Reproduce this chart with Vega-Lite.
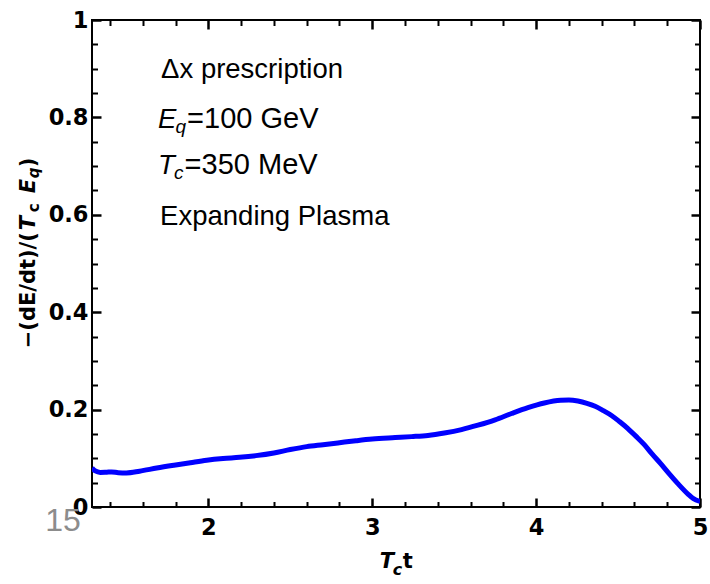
{
  "$schema": "https://vega.github.io/schema/vega-lite/v6.json",
  "autosize": "none",
  "padding": {"left": 92, "top": 20, "right": 10, "bottom": 77},
  "width": 608,
  "height": 487,
  "background": "white",
  "config": {
    "view": {"stroke": "black", "strokeWidth": 2},
    "axis": {"grid": false, "domain": false, "title": null, "tickColor": "black", "labelColor": "black", "labelFont": "DejaVu Sans", "labelFontWeight": "bold", "labelFontSize": 22.5, "labelOverlap": false, "labelFlush": false, "format": "~g"}
  },
  "data": {
    "values": [
      {"t": 1.29, "r": 0.080},
      {"t": 1.31, "r": 0.074},
      {"t": 1.34, "r": 0.071},
      {"t": 1.38, "r": 0.0715},
      {"t": 1.41, "r": 0.072},
      {"t": 1.45, "r": 0.0705},
      {"t": 1.50, "r": 0.070},
      {"t": 1.58, "r": 0.0735},
      {"t": 1.685, "r": 0.080},
      {"t": 1.79, "r": 0.0858},
      {"t": 1.89, "r": 0.091},
      {"t": 1.99, "r": 0.096},
      {"t": 2.09, "r": 0.0995},
      {"t": 2.19, "r": 0.102},
      {"t": 2.29, "r": 0.1055},
      {"t": 2.40, "r": 0.111},
      {"t": 2.50, "r": 0.118},
      {"t": 2.60, "r": 0.124},
      {"t": 2.70, "r": 0.128},
      {"t": 2.80, "r": 0.132},
      {"t": 2.90, "r": 0.136},
      {"t": 3.00, "r": 0.1395},
      {"t": 3.14, "r": 0.1425},
      {"t": 3.24, "r": 0.1445},
      {"t": 3.34, "r": 0.147},
      {"t": 3.44, "r": 0.152},
      {"t": 3.545, "r": 0.159},
      {"t": 3.645, "r": 0.168},
      {"t": 3.75, "r": 0.179},
      {"t": 3.85, "r": 0.192},
      {"t": 3.95, "r": 0.204},
      {"t": 4.05, "r": 0.2135},
      {"t": 4.15, "r": 0.219},
      {"t": 4.20, "r": 0.2195},
      {"t": 4.255, "r": 0.2175},
      {"t": 4.31, "r": 0.213},
      {"t": 4.36, "r": 0.207},
      {"t": 4.41, "r": 0.198},
      {"t": 4.46, "r": 0.188},
      {"t": 4.51, "r": 0.175},
      {"t": 4.56, "r": 0.161},
      {"t": 4.61, "r": 0.145},
      {"t": 4.66, "r": 0.128},
      {"t": 4.71, "r": 0.108},
      {"t": 4.76, "r": 0.089},
      {"t": 4.81, "r": 0.069},
      {"t": 4.865, "r": 0.048},
      {"t": 4.93, "r": 0.0255},
      {"t": 4.96, "r": 0.017},
      {"t": 4.99, "r": 0.0125},
      {"t": 5.00, "r": 0.012}
    ]
  },
  "resolve": {"axis": {"x": "independent", "y": "independent"}},
  "layer": [
    {
      "mark": {"type": "line", "color": "#0000ff", "strokeWidth": 5, "interpolate": "monotone", "clip": true},
      "encoding": {
        "x": {"field": "t", "type": "quantitative", "scale": {"domain": [1.29, 5], "nice": false, "zero": false},
              "axis": {"orient": "bottom", "values": [2, 3, 4, 5], "tickSize": -9, "tickWidth": 2.5, "labelPadding": 18}},
        "y": {"field": "r", "type": "quantitative", "scale": {"domain": [0, 1], "nice": false, "zero": false},
              "axis": {"orient": "left", "values": [0, 0.2, 0.4, 0.6, 0.8, 1], "tickSize": -9, "tickWidth": 2.5, "labelPadding": 13}}
      }
    },
    {
      "mark": {"type": "line", "opacity": 0},
      "encoding": {
        "x": {"field": "t", "type": "quantitative",
              "axis": {"orient": "bottom", "values": [1.4, 1.6, 1.8, 2.2, 2.4, 2.6, 2.8, 3.2, 3.4, 3.6, 3.8, 4.2, 4.4, 4.6, 4.8], "tickSize": -5.5, "tickWidth": 2, "labels": false}},
        "y": {"field": "r", "type": "quantitative",
              "axis": {"orient": "left", "values": [0.05, 0.1, 0.15, 0.25, 0.3, 0.35, 0.45, 0.5, 0.55, 0.65, 0.7, 0.75, 0.85, 0.9, 0.95], "tickSize": -5.5, "tickWidth": 2, "labels": false}}
      }
    },
    {
      "mark": {"type": "line", "opacity": 0},
      "encoding": {
        "x": {"field": "t", "type": "quantitative",
              "axis": {"orient": "top", "values": [2, 3, 4, 5], "tickSize": -9, "tickWidth": 2.5, "labels": false}},
        "y": {"field": "r", "type": "quantitative",
              "axis": {"orient": "right", "values": [0, 0.2, 0.4, 0.6, 0.8, 1], "tickSize": -9, "tickWidth": 2.5, "labels": false}}
      }
    },
    {
      "mark": {"type": "line", "opacity": 0},
      "encoding": {
        "x": {"field": "t", "type": "quantitative",
              "axis": {"orient": "top", "values": [1.4, 1.6, 1.8, 2.2, 2.4, 2.6, 2.8, 3.2, 3.4, 3.6, 3.8, 4.2, 4.4, 4.6, 4.8], "tickSize": -5.5, "tickWidth": 2, "labels": false}},
        "y": {"field": "r", "type": "quantitative",
              "axis": {"orient": "right", "values": [0.05, 0.1, 0.15, 0.25, 0.3, 0.35, 0.45, 0.5, 0.55, 0.65, 0.7, 0.75, 0.85, 0.9, 0.95], "tickSize": -5.5, "tickWidth": 2, "labels": false}}
      }
    },
    {
      "data": {"values": [{}]},
      "layer": [
        {"mark": {"type": "text", "font": "Liberation Sans", "fontSize": 27.5, "align": "left", "baseline": "alphabetic", "dx": 1.5, "color": "black"},
         "encoding": {"x": {"datum": 1.7026, "type": "quantitative", "axis": null}, "y": {"datum": 0.8813, "type": "quantitative", "axis": null}, "text": {"value": "Δx prescription"}}},
        {"mark": {"type": "text", "font": "Liberation Sans", "fontSize": 27.5, "fontStyle": "italic", "align": "left", "baseline": "alphabetic", "dx": -1.5, "color": "black"},
         "encoding": {"x": {"datum": 1.7026, "type": "quantitative", "axis": null}, "y": {"datum": 0.7785, "type": "quantitative", "axis": null}, "text": {"value": "E"}}},
        {"mark": {"type": "text", "font": "Liberation Sans", "fontSize": 19, "fontStyle": "italic", "align": "left", "baseline": "alphabetic", "dx": 16, "dy": 5, "color": "black"},
         "encoding": {"x": {"datum": 1.7026, "type": "quantitative", "axis": null}, "y": {"datum": 0.7785, "type": "quantitative", "axis": null}, "text": {"value": "q"}}},
        {"mark": {"type": "text", "font": "Liberation Sans", "fontSize": 29, "align": "left", "baseline": "alphabetic", "dx": 27.5, "color": "black"},
         "encoding": {"x": {"datum": 1.7026, "type": "quantitative", "axis": null}, "y": {"datum": 0.7785, "type": "quantitative", "axis": null}, "text": {"value": "=100 GeV"}}},
        {"mark": {"type": "text", "font": "Liberation Sans", "fontSize": 27.5, "fontStyle": "italic", "align": "left", "baseline": "alphabetic", "dx": -1.5, "color": "black"},
         "encoding": {"x": {"datum": 1.7026, "type": "quantitative", "axis": null}, "y": {"datum": 0.6846, "type": "quantitative", "axis": null}, "text": {"value": "T"}}},
        {"mark": {"type": "text", "font": "Liberation Sans", "fontSize": 19, "fontStyle": "italic", "align": "left", "baseline": "alphabetic", "dx": 14.5, "dy": 5, "color": "black"},
         "encoding": {"x": {"datum": 1.7026, "type": "quantitative", "axis": null}, "y": {"datum": 0.6846, "type": "quantitative", "axis": null}, "text": {"value": "c"}}},
        {"mark": {"type": "text", "font": "Liberation Sans", "fontSize": 29, "align": "left", "baseline": "alphabetic", "dx": 25, "color": "black"},
         "encoding": {"x": {"datum": 1.7026, "type": "quantitative", "axis": null}, "y": {"datum": 0.6846, "type": "quantitative", "axis": null}, "text": {"value": "=350 MeV"}}},
        {"mark": {"type": "text", "font": "Liberation Sans", "fontSize": 27.5, "align": "left", "baseline": "alphabetic", "dx": 0.5, "color": "black"},
         "encoding": {"x": {"datum": 1.7026, "type": "quantitative", "axis": null}, "y": {"datum": 0.5799, "type": "quantitative", "axis": null}, "text": {"value": "Expanding Plasma"}}},

        {"mark": {"type": "text", "font": "DejaVu Sans", "fontSize": 21, "fontWeight": "bold", "fontStyle": "italic", "align": "left", "baseline": "alphabetic", "color": "black"},
         "encoding": {"x": {"datum": 3.0463, "type": "quantitative", "axis": null}, "y": {"datum": -0.1259, "type": "quantitative", "axis": null}, "text": {"value": "T"}}},
        {"mark": {"type": "text", "font": "DejaVu Sans", "fontSize": 16, "fontWeight": "bold", "fontStyle": "italic", "align": "left", "baseline": "alphabetic", "dx": 13, "dy": 7, "color": "black"},
         "encoding": {"x": {"datum": 3.0463, "type": "quantitative", "axis": null}, "y": {"datum": -0.1259, "type": "quantitative", "axis": null}, "text": {"value": "c"}}},
        {"mark": {"type": "text", "font": "DejaVu Sans", "fontSize": 21, "fontWeight": "bold", "align": "left", "baseline": "alphabetic", "dx": 23, "color": "black"},
         "encoding": {"x": {"datum": 3.0463, "type": "quantitative", "axis": null}, "y": {"datum": -0.1259, "type": "quantitative", "axis": null}, "text": {"value": "t"}}},

        {"mark": {"type": "text", "font": "DejaVu Sans", "fontSize": 21, "fontWeight": "bold", "angle": 270, "align": "left", "baseline": "alphabetic", "dx": 0, "color": "black"},
         "encoding": {"x": {"datum": 0.9439, "type": "quantitative", "axis": null}, "y": {"datum": 0.3259, "type": "quantitative", "axis": null}, "text": {"value": "−(dE/dt)/("}}},
        {"mark": {"type": "text", "font": "DejaVu Sans", "fontSize": 21, "fontWeight": "bold", "fontStyle": "italic", "angle": 270, "align": "left", "baseline": "alphabetic", "dx": 118, "color": "black"},
         "encoding": {"x": {"datum": 0.9439, "type": "quantitative", "axis": null}, "y": {"datum": 0.3259, "type": "quantitative", "axis": null}, "text": {"value": "T"}}},
        {"mark": {"type": "text", "font": "DejaVu Sans", "fontSize": 15, "fontWeight": "bold", "angle": 270, "align": "left", "baseline": "alphabetic", "dx": 136, "dy": 4, "color": "black"},
         "encoding": {"x": {"datum": 0.9439, "type": "quantitative", "axis": null}, "y": {"datum": 0.3259, "type": "quantitative", "axis": null}, "text": {"value": "c"}}},
        {"mark": {"type": "text", "font": "DejaVu Sans", "fontSize": 21, "fontWeight": "bold", "fontStyle": "italic", "angle": 270, "align": "left", "baseline": "alphabetic", "dx": 155, "color": "black"},
         "encoding": {"x": {"datum": 0.9439, "type": "quantitative", "axis": null}, "y": {"datum": 0.3259, "type": "quantitative", "axis": null}, "text": {"value": "E"}}},
        {"mark": {"type": "text", "font": "DejaVu Sans", "fontSize": 15, "fontWeight": "bold", "fontStyle": "italic", "angle": 270, "align": "left", "baseline": "alphabetic", "dx": 170, "dy": 4, "color": "black"},
         "encoding": {"x": {"datum": 0.9439, "type": "quantitative", "axis": null}, "y": {"datum": 0.3259, "type": "quantitative", "axis": null}, "text": {"value": "q"}}},
        {"mark": {"type": "text", "font": "DejaVu Sans", "fontSize": 21, "fontWeight": "bold", "angle": 270, "align": "left", "baseline": "alphabetic", "dx": 181, "color": "black"},
         "encoding": {"x": {"datum": 0.9439, "type": "quantitative", "axis": null}, "y": {"datum": 0.3259, "type": "quantitative", "axis": null}, "text": {"value": ")"}}},

        {"mark": {"type": "text", "font": "Liberation Sans", "fontSize": 32, "align": "left", "baseline": "alphabetic", "color": "#8c8c8c"},
         "encoding": {"x": {"datum": 1.0049, "type": "quantitative", "axis": null}, "y": {"datum": -0.0499, "type": "quantitative", "axis": null}, "text": {"value": "15"}}}
      ]
    }
  ]
}
